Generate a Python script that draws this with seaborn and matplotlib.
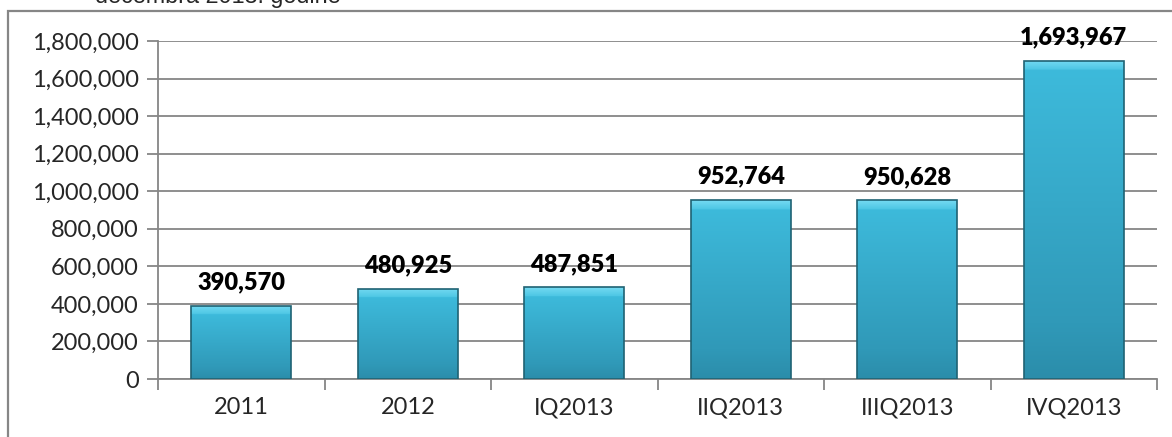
import matplotlib
matplotlib.use("Agg")
import matplotlib.pyplot as plt
import seaborn as sns
import numpy as np
import pandas as pd
from matplotlib.patches import Rectangle
from matplotlib.colors import LinearSegmentedColormap
from matplotlib.ticker import FuncFormatter

categories = ["2011", "2012", "IQ2013", "IIQ2013", "IIIQ2013", "IVQ2013"]
values = [390570, 480925, 487851, 952764, 950628, 1693967]
title_text = "decembra 2013. godine"

grey = "#868686"
bar_color = "#38B3D5"
edge_color = "#1F6273"

sns.set_theme(style="white")
plt.rcParams["font.family"] = ["Lato", "DejaVu Sans"]

df = pd.DataFrame({"period": categories, "value": values})

fig = plt.figure(figsize=(11.72, 4.37), dpi=100)
ax = fig.add_axes([158 / 1172, 1 - 379 / 437, (1157 - 158) / 1172, (379 - 41) / 437])

sns.barplot(data=df, x="period", y="value", color=bar_color, width=0.6,
            edgecolor=edge_color, linewidth=1.2, saturation=1, ax=ax, zorder=3)

# bevel-like vertical shading on each bar
shade = LinearSegmentedColormap.from_list(
    "shade", [(0, "#2B8DAA"), (0.15, "#3099B8"), (0.85, "#3DBADB"), (0.9, "#4CC6E4"), (1, "#74DAF2")])
px = 1800000 / 338
for bar in ax.patches:
    x0, y0 = bar.get_x(), bar.get_y()
    w, h = bar.get_width(), bar.get_height()
    yy = np.linspace(0, h, 400)
    top = h - 9 * px
    g = np.where(yy < top, 0.85 * yy / top, 0.9 + 0.1 * (yy - top) / (9 * px)).reshape(-1, 1)
    im = ax.imshow(g, cmap=shade, vmin=0, vmax=1, origin="lower", aspect="auto",
                   extent=(x0, x0 + w, y0, y0 + h), zorder=3.5)
    im.set_clip_path(bar)

ax.set_ylim(0, 1800000)
ax.set_xlim(-0.5, len(categories) - 0.5)
ax.set_yticks(range(0, 1800001, 200000))
ax.yaxis.set_major_formatter(FuncFormatter(lambda v, p: f"{int(v):,}"))
ax.set_xlabel("")
ax.set_ylabel("")

ax.grid(axis="y", color=grey, linewidth=1.3, zorder=0)
ax.set_axisbelow(True)
for s in ["top", "right"]:
    ax.spines[s].set_visible(False)
for s in ["left", "bottom"]:
    ax.spines[s].set_color(grey)
    ax.spines[s].set_linewidth(1.3)

ax.tick_params(axis="y", length=8, width=1.3, color=grey, labelsize=17, pad=6, left=True)
ax.tick_params(axis="x", which="major", length=0, labelsize=17, pad=13)
ax.set_xticks([i + 0.5 for i in range(-1, len(categories))], minor=True)
ax.tick_params(axis="x", which="minor", length=8, width=1.3, color=grey, bottom=True)

for bar, v in zip(ax.patches, values):
    bar.set_zorder(4)
    bar.set_facecolor("none")
    ax.annotate(f"{v:,}", (bar.get_x() + bar.get_width() / 2, v), xytext=(0, 9),
                textcoords="offset points", ha="center", va="bottom",
                fontsize=17, fontweight="heavy", color="black")

fig.patches.append(Rectangle((8 / 1172, -0.1), 1.2, 1 - 11 / 437 + 0.1,
                             transform=fig.transFigure, fill=False,
                             edgecolor=grey, linewidth=1.6))
fig.text(95 / 1172, 1 + 4 / 437, title_text, fontsize=16.8, ha="left", va="center",
         family=["Liberation Sans", "DejaVu Sans"])

fig.savefig("out.png", dpi=100)
